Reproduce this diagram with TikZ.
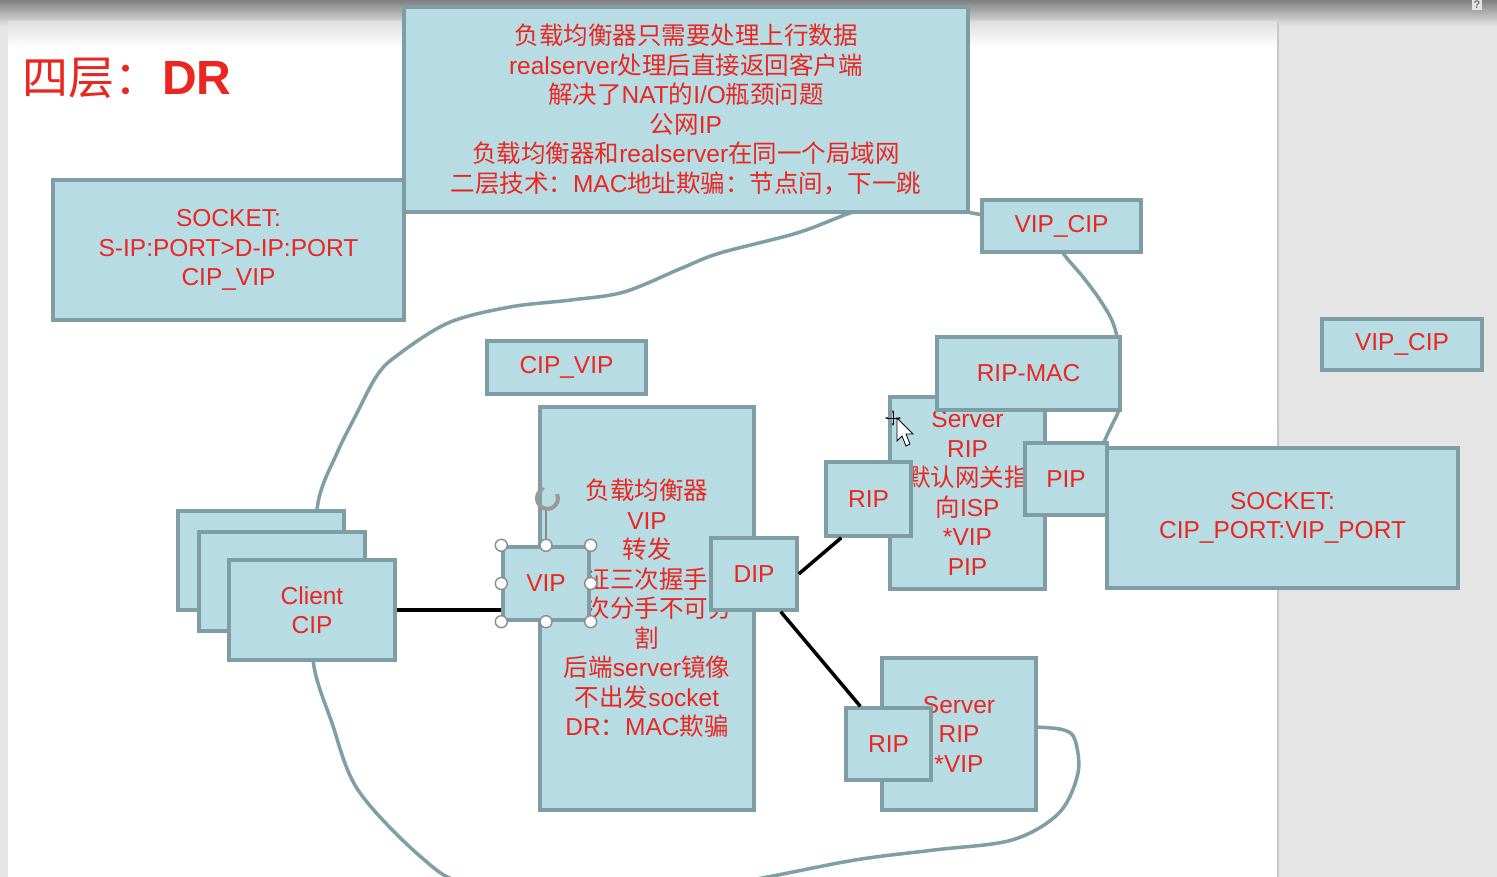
\documentclass[tikz,border=0pt]{standalone}
\usepackage{fontspec}
\setmainfont{Liberation Sans}
\newfontfamily\cjkfont{Noto Sans CJK SC}
\newcommand\zhs[1]{{\cjkfont #1}}
\usetikzlibrary{calc,arrows.meta}
\definecolor{boxfill}{HTML}{B7DCE3}
\definecolor{boxline}{HTML}{7E9DA4}
\definecolor{txtred}{HTML}{EB2620}
\definecolor{bggray}{HTML}{E5E5E5}
\definecolor{curvecol}{HTML}{7F9EA5}
\begin{document}
\begin{tikzpicture}[x=1pt,y=-1pt,
  box/.style={draw=boxline, fill=boxfill, line width=3.4pt, inner sep=0pt,
    text=txtred, align=center, font=\fontsize{24.5}{29.5}\selectfont},
  wh/.style 2 args={minimum width=#1, minimum height=#2},
  freehand/.style={draw=curvecol, line width=3.5pt, line cap=round, line join=round},
  link/.style={draw=black, line width=3.5pt},
  handle/.style={circle, draw=black!45, fill=white, line width=1.4pt, minimum size=12pt, inner sep=0pt}]
\useasboundingbox (0,0) rectangle (1497,877);
% background
\fill[bggray] (0,0) rectangle (1497,877);
\shade[top color=black!50, bottom color=bggray] (0,0) rectangle (1497,26);
\fill[white] (8,22) rectangle (1278,877);
\shade[top color=black!12, bottom color=white] (8,22) rectangle (1278,48);
\draw[black!22, line width=1.5pt] (1278,22) -- (1278,877);
\node[fill=black!10, text=black!55, inner sep=1.5pt, font=\bfseries\fontsize{11}{11}\selectfont] (help) at (1477,5) {?};

% freehand curves (under the boxes)
\draw[freehand] plot[smooth, tension=0.55] coordinates {
  (1000,222) (982,215) (968,212) (930,200) (880,205) (850,213) (797,233)
  (720,253) (682,268) (624,292) (571,300) (510,307) (448,323) (395,357)
  (376,377) (357,413) (337,453) (318,503) (315,580) (313,660) (332,723)
  (358,790) (421,857) (470,885) (600,905) (751,880) (855,860) (934,850)
  (1012,840) (1059,813) (1078,773) (1075,740) (1064,730) (1036,727) (1010,727)};
\draw[freehand] plot[smooth, tension=0.55] coordinates {
  (1060,240) (1063,253) (1083,277) (1100,300) (1113,323) (1119,350)
  (1120,395) (1118,412) (1113,423) (1105,440) (1100,458)};

% title
\node[anchor=base west, text=txtred, inner sep=0pt] (title) at (22,95)
  {\fontsize{46}{50}\selectfont\zhs{四层：}\hspace{2pt}{\fontsize{48}{50}\selectfont\bfseries DR}};

% clients
\node[box, wh={166pt}{99pt}] (back1) at (261,560.5) {};
\node[box, wh={166pt}{99pt}] (back2) at (282,581.5) {};
\node[box, wh={166pt}{100pt}] (client) at (312,610) {Client\\CIP};

% notes
\node[box, wh={564pt}{205pt}] (topbox) at (686,109.5) {%
  \zhs{负载均衡器只需要处理上行数据}\\
  realserver\zhs{处理后直接返回客户端}\\
  \zhs{解决了}NAT\zhs{的}I/O\zhs{瓶颈问题}\\
  \zhs{公网}IP\\
  \zhs{负载均衡器和}realserver\zhs{在同一个局域网}\\
  \zhs{二层技术：}MAC\zhs{地址欺骗：节点间，下一跳}};
\node[box, wh={351pt}{140pt}] (sockl) at (228.5,250) {SOCKET:\\S-IP:PORT>D-IP:PORT\\CIP\_VIP};
\node[box, wh={159pt}{52pt}] (vipcipa) at (1061.5,226) {VIP\_CIP};
\node[box, wh={160pt}{51pt}] (vipcipb) at (1402,344.5) {VIP\_CIP};
\node[box, wh={159pt}{53pt}] (cipvip) at (566.5,367.5) {CIP\_VIP};

% load balancer
\node[box, wh={214pt}{403pt}] (lb) at (647,608.5) {%
  \zhs{负载均衡器}\\VIP\\\zhs{转发}\\\zhs{保证三次握手，}\\\zhs{四次分手不可分}\\\zhs{割}\\
  \zhs{后端}server\zhs{镜像}\\\zhs{不出发}socket\\DR\zhs{：}MAC\zhs{欺骗}};
\node[box, wh={86pt}{73pt}] (vip) at (546,583.5) {VIP};
\node[box, wh={86pt}{72pt}] (dip) at (754,574) {DIP};

% server 1
\node[box, wh={155pt}{192pt}] (srva) at (967.5,493) {Server\\RIP\\\zhs{默认网关指}\\\zhs{向}ISP\\*VIP\\PIP};
\node[box, wh={183pt}{73pt}] (ripmac) at (1028.5,373.5) {RIP-MAC};
\node[box, wh={85pt}{74pt}] (ripa) at (868.5,499) {RIP};
\node[box, wh={82pt}{72pt}] (pip) at (1066,479) {PIP};
\node[box, wh={351pt}{140pt}] (sockr) at (1282.5,518) {SOCKET:\\CIP\_PORT:VIP\_PORT};

% server 2
\node[box, wh={154pt}{152pt}] (srvb) at (959,734) {Server\\RIP\\*VIP};
\node[box, wh={85pt}{72pt}] (ripb) at (888.5,744) {RIP};

% connectors
\draw[link] (client.east) -- (vip.west |- client.east);
\draw[link] (dip.east) -- ($(ripa.south west)+(17,0)$);
\draw[link] ($(dip.south east)+(-18,0)$) -- ($(ripb.north west)+(16,0)$);

% selection handles on VIP
\draw[black!45, line width=1.5pt] (vip.north) -- (546,509);
\draw[black!40, line width=4pt, -{Stealth[length=6pt,width=9pt]}] (557,494) arc (-25:255:10.5);
\node[handle] (h1) at (vip.north west) {};
\node[handle] (h2) at (vip.north) {};
\node[handle] (h3) at (vip.north east) {};
\node[handle] (h4) at (vip.west) {};
\node[handle] (h5) at (vip.east) {};
\node[handle] (h6) at (vip.south west) {};
\node[handle] (h7) at (vip.south) {};
\node[handle] (h8) at (vip.south east) {};

% mouse cursor
\draw[black, line width=1pt, {Stealth[length=3pt]}-{Stealth[length=3pt]}] (885,418) -- (901,418);
\draw[black, line width=1pt, {Stealth[length=3pt]}-{Stealth[length=3pt]}] (893,410) -- (893,426);
\draw[fill=white, draw=black, line width=0.8pt] (897,418) -- (897,441) -- (902,436) -- (906,446)
  -- (910,444) -- (906,434) -- (913,434) -- cycle;
\end{tikzpicture}
\end{document}
